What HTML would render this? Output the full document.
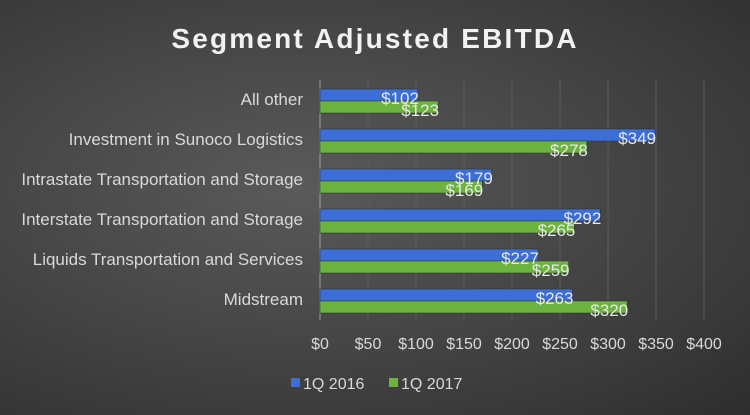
<!DOCTYPE html>
<html><head><meta charset="utf-8"><style>
body{margin:0;width:750px;height:415px;overflow:hidden;background:radial-gradient(ellipse at 40% 45%,#5a5a5a 0%,#474747 45%,#2e2e2e 100%);font-family:"Liberation Sans",sans-serif}
svg{position:absolute;left:0;top:0}
</style></head><body>
<svg width="750" height="415">
<text x="375" y="48" text-anchor="middle" fill="#f2f2f2" font-size="28" font-weight="bold" letter-spacing="2.2">Segment Adjusted EBITDA</text>
<g id="grid"></g><g id="bars"></g><g id="labels"></g>
<g>
<rect x="291" y="378" width="9" height="9" fill="#3b6fd6"/>
<text x="303" y="389" fill="#d9d9d9" font-size="16">1Q 2016</text>
<rect x="389" y="378" width="9" height="9" fill="#6cb43f"/>
<text x="401" y="389" fill="#d9d9d9" font-size="16">1Q 2017</text>
</g>
</svg>
<script>
const categories=["All other","Investment in Sunoco Logistics","Intrastate Transportation and Storage","Interstate Transportation and Storage","Liquids Transportation and Services","Midstream"];
const values2016=[102,349,179,292,227,263];
const values2017=[123,278,169,265,259,320];
const ticks=[0,50,100,150,200,250,300,350,400];
const ns="http://www.w3.org/2000/svg";
const X=v=>320+v*0.96;
const Y=i=>80+i*40;
function mk(t,a,p){const e=document.createElementNS(ns,t);for(const k in a)e.setAttribute(k,a[k]);p.appendChild(e);return e;}
const g=document.getElementById('grid'),b=document.getElementById('bars'),l=document.getElementById('labels');
ticks.forEach(t=>{
 if(t>0){const ln=mk('line',{x1:X(t),x2:X(t),y1:80,y2:320,stroke:'#5c5c5c','stroke-width':1},g);
 
 }
 const tx=mk('text',{x:X(t),y:349,'text-anchor':'middle',fill:'#d9d9d9','font-size':16},l);tx.textContent='$'+t;
 
 
});
const ax=mk('line',{x1:320,x2:320,y1:80,y2:320,stroke:'#a0a0a0','stroke-width':1},g);


categories.forEach((c,i)=>{
 const cy=Y(i)+20;
 const t=mk('text',{x:303,y:cy+5,'text-anchor':'end',fill:'#d9d9d9','font-size':17},l);t.textContent=c;
 
 
 [[values2016,'#3b6fd6',cy-11,'2016'],[values2017,'#6cb43f',cy+1,'2017']].forEach(([arr,col,y,s])=>{
  const r=mk('rect',{x:320,y:y,width:X(arr[i])-320,height:12,fill:col,stroke:'#2a2a2a','stroke-width':0.5},b);
  
  
  const v=mk('text',{x:X(arr[i])+1,y:y+15,'text-anchor':'end',fill:'#e8e8e8','font-size':17},l);v.textContent='$'+arr[i];
  
  
 });
});
</script>
</body></html>
